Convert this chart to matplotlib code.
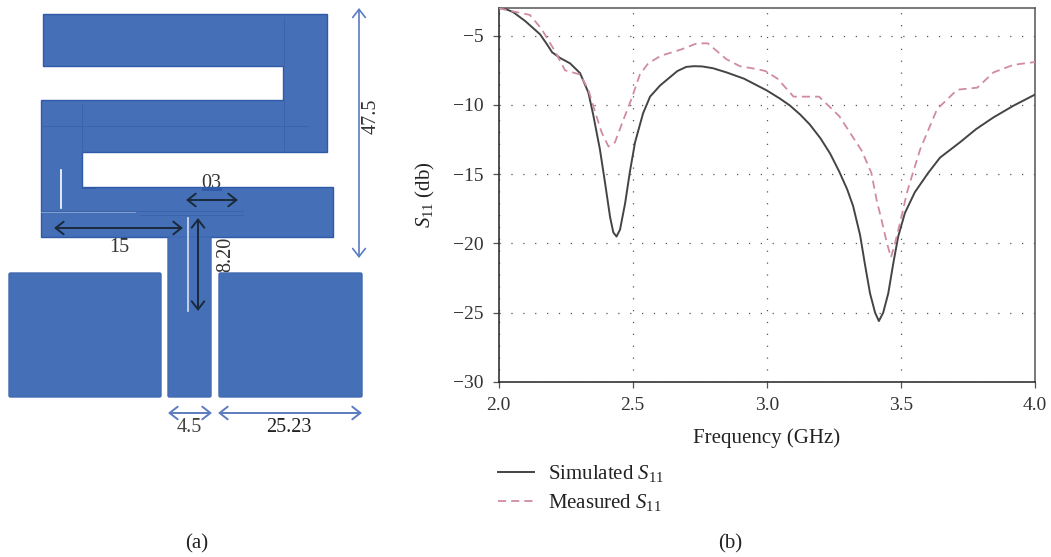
import matplotlib
matplotlib.use("Agg")
import matplotlib.pyplot as plt
from matplotlib.patches import Polygon, FancyBboxPatch, Rectangle, FancyArrowPatch
from matplotlib.ticker import FormatStrFormatter

plt.rcParams['font.family'] = ['Liberation Serif', 'DejaVu Serif']
plt.rcParams['mathtext.fontset'] = 'custom'
plt.rcParams['mathtext.rm'] = 'Liberation Serif'
plt.rcParams['mathtext.it'] = 'Liberation Serif:italic'

sim_f = [2.0, 2.03, 2.055, 2.1, 2.155, 2.18, 2.2, 2.229, 2.267, 2.304, 2.335, 2.353, 2.378, 2.397, 2.416, 2.428,
         2.44, 2.453, 2.472, 2.49, 2.509, 2.539, 2.565, 2.602, 2.639, 2.667, 2.70, 2.73, 2.76, 2.80, 2.85, 2.915,
         2.96, 3.0, 3.05, 3.087, 3.125, 3.16, 3.2, 3.236, 3.27, 3.3, 3.322, 3.348, 3.366, 3.385, 3.404, 3.418, 3.434,
         3.453, 3.472, 3.49, 3.515, 3.552, 3.602, 3.646, 3.72, 3.78, 3.845, 3.92, 4.0]
sim_s = [-3.0, -3.1, -3.3, -3.95, -4.9, -5.6, -6.2, -6.6, -7.0, -7.7, -9.1, -10.7, -13.2, -15.6, -18.1, -19.2,
         -19.5, -19.0, -17.1, -14.8, -12.7, -10.6, -9.4, -8.6, -8.0, -7.55, -7.25, -7.2, -7.22, -7.35, -7.65, -8.1,
         -8.55, -8.95, -9.55, -10.05, -10.7, -11.4, -12.4, -13.5, -14.8, -16.1, -17.3, -19.4, -21.5, -23.6, -25.0, -25.6, -25.0,
         -23.6, -21.4, -19.5, -17.8, -16.3, -14.9, -13.8, -12.7, -11.75, -10.9, -10.05, -9.25]
mea_f = [2.0, 2.02, 2.117, 2.16, 2.21, 2.248, 2.304, 2.335, 2.36, 2.385, 2.41, 2.434, 2.465, 2.497, 2.527, 2.558,
         2.605, 2.68, 2.74, 2.78, 2.85, 2.9, 2.96, 2.995, 3.04, 3.1, 3.195, 3.27, 3.354, 3.39, 3.41, 3.428, 3.447,
         3.463, 3.478, 3.497, 3.523, 3.548, 3.572, 3.635, 3.71, 3.785, 3.845, 3.92, 4.0]
mea_s = [-3.0, -3.1, -3.5, -4.5, -6.1, -7.5, -7.8, -8.9, -10.5, -12.0, -13.0, -12.7, -11.1, -9.5, -7.8, -7.0,
         -6.45, -6.0, -5.55, -5.55, -6.7, -7.2, -7.4, -7.55, -8.1, -9.4, -9.4, -10.8, -13.3, -14.9, -16.9, -18.3, -19.9,
         -21.0, -20.0, -18.5, -16.3, -14.7, -13.2, -10.3, -8.9, -8.75, -7.65, -7.1, -6.9]

x_ticks = [2.0, 2.5, 3.0, 3.5, 4.0]
y_ticks = [-5, -10, -15, -20, -25, -30]

W, H = 1051, 557
BLUE = '#4570b8'
EDGE = '#2f5aa8'
ARROW_BLUE = '#5b7cc0'
DARK = '#1a2a3a'
FS = 14.5

fig = plt.figure(figsize=(W / 100, H / 100), dpi=100, facecolor='white')

# ---------- panel (b) ----------
L, R, T, B = 498.5, 1035, 8, 382
ax = fig.add_axes([L / W, 1 - B / H, (R - L) / W, (B - T) / H])
ax.plot(sim_f, sim_s, color='#444444', lw=1.4, label='Simulated $S_{11}$', zorder=3)
ax.plot(mea_f, mea_s, color='#d08aa6', lw=1.3, dashes=(4.5, 2.8), label='Measured $S_{11}$', zorder=3)
ax.set_xlim(2.0, 4.0)
ax.set_ylim(-30, -3)
ax.set_xticks(x_ticks)
ax.set_yticks(y_ticks)
ax.xaxis.set_major_formatter(FormatStrFormatter('%.1f'))
ax.grid(True, color='#555555', lw=0.9, linestyle=(0, (1, 8.5)))
ax.tick_params(direction='out', length=4, width=0.9, color='#555555', labelsize=14,
               labelcolor='#333333', pad=7)
for s in ax.spines.values():
    s.set_color('#555555')
    s.set_linewidth(1.1)
ax.spines['left'].set_color('#222222')
ax.spines['bottom'].set_color('#222222')
ax.set_xlabel('Frequency (GHz)', fontsize=15, color='#222222', labelpad=10)
ax.set_ylabel('$S_{11}$ (db)', fontsize=15, color='#222222', labelpad=11)
leg = ax.legend(loc='upper left', bbox_to_anchor=(498 / W, 1 - 463 / H), bbox_transform=fig.transFigure,
                frameon=False, fontsize=15, handlelength=1.75, handletextpad=0.67, labelspacing=0.38,
                borderpad=0, borderaxespad=0, labelcolor='#222222')

# ---------- panel (a), in an overlay axes ----------
ov = fig.add_axes([0, 0, 1, 1], facecolor='none')
ov.set_xlim(0, W)
ov.set_ylim(H, 0)
ov.axis('off')

ov.text(226, 254, '8.20', rotation=90, ha='center', va='center', fontsize=FS, color='#333333', zorder=1)
ov.text(211, 183, '03', ha='center', va='center', fontsize=FS, color='#333333', zorder=1)

resonator = [(43, 14), (327, 14), (327, 152), (82, 152), (82, 187), (333, 187), (333, 237),
             (41, 237), (41, 100), (283, 100), (283, 66), (43, 66)]
ov.add_patch(Polygon(resonator, closed=True, fc=BLUE, ec=EDGE, lw=1, zorder=2))
ov.add_patch(Rectangle((202, 187), 20, 4, fc=EDGE, ec='none', zorder=2))
ov.add_patch(Rectangle((82, 187), 14, 2, fc=EDGE, ec='none', zorder=2))
for x0, x1, y0 in [(9, 161, 273), (168, 211, 237), (219, 362, 273)]:
    ov.add_patch(FancyBboxPatch((x0, y0), x1 - x0, 397 - y0, boxstyle='round,pad=0,rounding_size=1.5',
                                fc=BLUE, ec='#4069b2', lw=1.0, zorder=2))

# faint seams and white slits
for xs, ys in [((284, 284), (18, 66)), ((284, 284), (100, 151)), ((82, 82), (104, 152)),
               ((41, 308), (126, 126)), ((41, 243), (211, 211)), ((140, 243), (215, 215))]:
    ov.plot(xs, ys, color='#3c64a8', lw=0.7, zorder=3)
ov.plot((61, 61), (170, 208), color='white', lw=1.2, zorder=3)
ov.plot((188, 188), (218, 311), color='#d7e2f2', lw=1.2, zorder=3)
ov.plot((41, 135), (212, 212), color='#8fa8d6', lw=0.6, zorder=3)


def arrow(p, q, color, lw=1.2, ms=13):
    ov.add_patch(FancyArrowPatch(p, q, arrowstyle='<->,head_length=0.45,head_width=0.35', color=color, lw=lw,
                                 mutation_scale=ms, shrinkA=0, shrinkB=0, zorder=4))


arrow((54, 228), (183, 228), DARK, 1.4)
arrow((186, 200), (238, 200), DARK, 1.4)
arrow((198, 218), (198, 311), DARK, 1.4)
arrow((359, 8), (359, 258), ARROW_BLUE, 1.2)
arrow((168, 413), (212, 413), ARROW_BLUE, 1.4)
arrow((218, 413), (362, 413), ARROW_BLUE, 1.4)

ov.text(371, 116, '47.5', rotation=90, ha='center', va='center', fontsize=FS, color='#333333', zorder=5)
ov.text(119, 247, '15', ha='center', va='center', fontsize=FS, color='#333333', zorder=5)
ov.text(189, 427, '4.5', ha='center', va='center', fontsize=FS, color='#444444', zorder=5)
ov.text(289, 427, '25.23', ha='center', va='center', fontsize=FS, color='#222222', zorder=5)
ov.text(197, 544, '(a)', ha='center', va='center', fontsize=15, color='#222222', zorder=5)
ov.text(730, 544, '(b)', ha='center', va='center', fontsize=15, color='#222222', zorder=5)

fig.savefig('out.png', dpi=100, facecolor='white')
